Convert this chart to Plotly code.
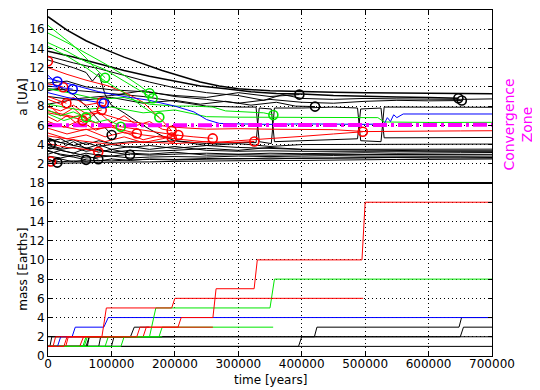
import plotly.graph_objects as go
from plotly.subplots import make_subplots

BLACK, RED, GREEN, BLUE, MAG = "#000000", "#FF0000", "#00E600", "#0000FF", "#FF00FF"

# ---------------- top panel: semi-major axis a [UA] vs time ----------------
TB = [0, 20000, 40000, 60000, 80000, 100000, 130000, 160000, 200000, 250000,
      300000, 350000, 400000, 450000, 500000, 550000, 600000, 650000, 700000]
B1 = [2.05, 2.05, 2.1, 2.1, 2.15, 2.15, 2.2, 2.2, 2.25, 2.3, 2.3, 2.35, 2.35, 2.4, 2.4, 2.45, 2.45, 2.5, 2.5]
B2 = [2.4, 2.2, 2.3, 2.25, 2.35, 2.3, 2.4, 2.45, 2.4, 2.5, 2.55, 2.5, 2.6, 2.6, 2.65, 2.65, 2.7, 2.7, 2.65]
B3 = [2.8, 2.6, 2.9, 2.6, 2.7, 2.8, 2.6, 2.7, 2.75, 2.7, 2.8, 2.75, 2.8, 2.85, 2.8, 2.8, 2.85, 2.8, 2.8]
B4 = [3.3, 3.0, 2.8, 3.1, 2.9, 2.8, 3.0, 2.9, 3.0, 3.1, 3.0, 3.1, 3.05, 3.1, 3.15, 3.1, 3.15, 3.15, 3.17]
B5 = [3.9, 3.5, 3.7, 3.3, 3.5, 3.2, 3.4, 3.3, 3.4, 3.6, 3.4, 3.7, 3.5, 3.5, 3.55, 3.5, 3.5, 3.52, 3.52]
B6 = [4.3, 4.6, 3.9, 4.2, 3.8, 4.0, 3.7, 3.9, 3.6, 3.9, 4.1, 3.8, 4.0, 4.0, 4.05, 4.0, 4.05, 4.05, 4.05]
B8 = [2.2, 2.5, 2.2, 2.4, 2.3, 2.5, 2.35, 2.5, 2.45, 2.55, 2.5, 2.6, 2.55, 2.6, 2.6, 2.65, 2.6, 2.62, 2.6]
B9 = [3.0, 3.4, 3.1, 3.6, 3.2, 3.5, 3.1, 3.0, 3.2, 2.9, 2.95, 2.9, 2.95, 2.95, 2.95, 3.0, 3.0, 3.0, 2.98]
B10 = [4.0, 3.6, 4.3, 3.6, 4.0, 3.5, 3.8, 3.5, 3.8, 3.4, 3.3, 3.35, 3.3, 3.3, 3.3, 3.3, 3.3, 3.3, 3.3]

B7_t = [0, 20000, 40000, 60000, 80000, 100000, 130000, 160000, 200000, 250000, 300000, 328000, 333000,
        352000, 357000, 400000, 450000, 488000, 493000, 525000, 530000, 600000, 650000, 700000]
B7_a = [4.7, 4.2, 4.5, 4.0, 4.4, 4.1, 4.3, 4.2, 4.4, 4.1, 4.2, 4.2, 7.8, 7.7, 4.3, 4.4, 4.5, 4.6,
        7.7, 7.8, 4.7, 4.7, 4.75, 4.74]

K1_t = [0, 30000, 60000, 90000, 120000, 150000, 180000, 210000, 240000, 270000, 300000, 350000,
        400000, 450000, 500000, 550000, 600000, 650000, 700000]
K1_a = [17.3, 15.9, 14.8, 13.9, 13.1, 12.4, 11.7, 11.1, 10.5, 10.1, 9.8, 9.6, 9.5, 9.45, 9.4, 9.35, 9.3, 9.3, 9.28]
K2_t = [0, 40000, 80000, 120000, 160000, 200000, 240000, 280000, 320000, 360000, 400000, 450000,
        500000, 550000, 600000, 647000]
K2_a = [13.7, 13.1, 12.4, 11.7, 11.1, 10.6, 10.1, 9.8, 9.5, 9.3, 9.25, 9.1, 9.0, 8.95, 8.9, 8.82]
K3_t = [0, 40000, 80000, 120000, 160000, 200000, 250000, 300000, 340000, 370000, 400000, 450000,
        500000, 550000, 600000, 650000, 700000]
K3_a = [13.2, 12.5, 11.9, 11.2, 10.5, 9.9, 9.4, 9.1, 8.6, 9.2, 8.8, 8.7, 8.8, 8.75, 8.7, 8.7, 8.75]
K4_t = [0, 30000, 60000, 100000, 150000, 200000, 250000, 300000, 350000, 396300]
K4_a = [10.4, 10.6, 10.0, 9.7, 9.5, 9.1, 8.9, 9.4, 9.0, 9.2]
K5_t = [0, 50000, 100000, 150000, 200000, 240000, 280000, 320000, 360000, 390000, 421000]
K5_a = [9.0, 8.6, 8.9, 8.3, 8.6, 8.2, 8.5, 8.1, 8.4, 8.0, 7.95]
K6_t = [0, 50000, 100000, 150000, 200000, 250000, 300000, 350000, 400000, 450000, 500000, 550000, 600000, 652400]
K6_a = [8.2, 8.8, 9.1, 9.6, 9.0, 8.7, 8.3, 8.7, 8.4, 8.3, 8.5, 8.6, 8.55, 8.58]
K7_t = [0, 50000, 100000, 150000, 200000, 250000, 300000, 328000, 333000, 352000, 357000, 400000,
        450000, 488000, 493000, 525000, 530000, 600000, 700000]
K7_a = [9.8, 9.6, 9.3, 9.0, 8.5, 8.0, 7.9, 7.9, 4.3, 4.1, 7.8, 7.8, 7.9, 7.8, 4.4, 4.3, 7.9, 7.9, 7.88]
K10_t = [0, 20000, 40000, 60000, 70000, 80000, 90000, 100000, 120000, 140000, 160000, 180000,
         200000, 250000, 300000, 400000, 500000, 600000, 700000]
K10_a = [12.8, 12.4, 12.0, 11.5, 10.6, 11.4, 9.2, 8.1, 7.3, 6.4, 5.6, 4.9, 4.4, 3.9, 3.7, 3.5, 3.4, 3.35, 3.35]
K11_t = [0, 20000, 40000, 60000, 80000, 100400]
K11_a = [9.6, 9.9, 9.2, 8.0, 6.5, 4.99]
S1_t, S1_a = [0, 7000, 14700], [2.5, 2.3, 2.12]
S2_t, S2_a = [0, 20000, 40000, 60000], [3.4, 2.9, 2.7, 2.41]
S3_t, S3_a = [0, 30000, 55000, 79300], [3.7, 3.3, 2.9, 2.48]
S4_t, S4_a = [0, 40000, 80000, 110000, 129300], [4.5, 3.9, 3.4, 3.1, 2.93]
S7_t, S7_a = [0, 4300], [4.4, 4.05]

R2_t = [0, 30000, 60000, 95000, 125000, 150000, 180000, 195000]
R2_a = [12.0, 11.3, 10.7, 10.1, 9.3, 8.4, 6.5, 5.44]
R3_t, R3_a = [0, 12000, 24000], [10.3, 10.2, 9.97]
R4_t, R4_a = [0, 15000, 29000], [9.0, 8.6, 8.3]
R5_t, R5_a = [0, 20000, 40000, 60000, 84700], [8.7, 8.2, 8.9, 8.1, 8.4]
R6_t, R6_a = [0, 20000, 40000, 60000, 84700], [7.9, 7.5, 8.1, 7.2, 7.6]
R7_t, R7_a = [0, 15000, 30000, 45000, 54700], [6.9, 6.4, 7.0, 6.2, 6.49]
R8_t = [0, 25000, 50000, 75000, 100000, 120000, 140000]
R8_a = [6.4, 5.8, 6.5, 5.5, 6.0, 5.2, 5.16]
R9_t = [0, 30000, 60000, 90000, 120000, 150000, 175000, 195000]
R9_a = [5.7, 5.1, 5.6, 4.8, 5.3, 4.5, 4.9, 4.74]
R10_t = [0, 30000, 60000, 90000, 120000, 150000, 180000, 205500]
R10_a = [5.2, 4.6, 5.0, 4.3, 4.8, 4.2, 4.6, 4.99]
R11_t = [0, 40000, 80000, 120000, 160000, 200000, 230000, 259700]
R11_a = [7.3, 6.8, 6.2, 5.8, 5.4, 5.0, 4.8, 4.64]
R12_t = [0, 50000, 100000, 150000, 200000, 250000, 290000, 325300]
R12_a = [4.9, 4.4, 4.0, 4.3, 4.1, 4.3, 4.2, 4.32]
R13_t = [0, 50000, 100000, 150000, 200000, 260000, 300000, 350000, 400000, 450000, 496300]
R13_a = [6.2, 5.5, 5.8, 5.0, 4.6, 4.2, 4.4, 4.6, 4.85, 5.1, 5.33]
R14_t = [0, 40000, 80000, 120000, 160000, 200000, 250000, 300000, 350000, 400000, 450000,
         500000, 550000, 600000, 650000, 700000]
R14_a = [7.5, 6.9, 7.3, 6.5, 6.1, 5.8, 5.6, 5.65, 5.6, 5.6, 5.55, 5.35, 5.4, 5.4, 5.42, 5.44]
R15_t = [0, 20000, 40000, 60000, 80000, 100000, 120000, 140000, 160000, 180000, 195000]
R15_a = [8.2, 7.0, 7.8, 6.6, 7.4, 6.2, 7.0, 6.0, 6.4, 5.6, 5.44]
S5_t, S5_a = [0, 4700], [2.6, 2.23]
S6_t, S6_a = [0, 30000, 60000, 79300], [4.1, 3.7, 3.5, 3.24]

G1_t, G1_a = [0, 20000, 40000, 60000, 75000, 90000], [16.4, 15.3, 14.3, 13.0, 11.9, 10.95]
G2_t = [0, 30000, 60000, 90000, 120000, 145000, 160000]
G2_a = [15.6, 14.6, 13.5, 12.4, 11.2, 10.1, 9.34]
G3_t = [0, 30000, 60000, 90000, 120000, 145000, 165000]
G3_a = [14.6, 13.7, 12.6, 11.8, 10.6, 9.6, 8.82]
G4_t = [0, 30000, 60000, 90000, 120000, 150000, 175500]
G4_a = [14.2, 13.2, 12.0, 10.6, 9.4, 7.9, 6.83]
G5_t, G5_a = [0, 20000, 40000, 60000], [7.6, 7.0, 7.4, 6.83]
G6_t, G6_a = [0, 25000, 50000, 75000, 95000, 114700], [7.2, 6.5, 7.0, 6.3, 6.6, 5.86]
G7_t = [0, 40000, 80000, 120000, 160000, 200000, 230000, 260000, 280000, 310000, 340000, 355300]
G7_a = [9.8, 9.3, 8.7, 8.9, 8.2, 8.0, 8.0, 7.9, 7.5, 7.4, 7.3, 7.08]
G8_t = [0, 50000, 100000, 150000, 200000, 250000, 300000, 350000, 400000, 450000, 500000,
        520000, 530000, 600000, 700000]
G8_a = [8.2, 7.6, 7.9, 7.3, 7.6, 6.9, 6.85, 6.85, 6.8, 6.8, 6.85, 6.8, 6.35, 6.3, 6.31]

U1_t, U1_a = [0, 7000, 14700], [11.2, 10.8, 10.56]
U2_t, U2_a = [0, 20000, 39000], [10.1, 9.9, 9.76]
U3_t, U3_a = [0, 30000, 60000, 88000], [9.4, 8.9, 8.6, 8.3]
U4_t = [0, 40000, 80000, 120000, 160000, 200000, 230000, 250000, 270000, 300000, 350000, 400000,
        450000, 500000, 530000, 535000, 540000, 545000, 550000, 560000, 600000, 700000]
U4_a = [10.9, 10.2, 9.5, 9.0, 8.6, 8.0, 7.4, 6.6, 6.2, 6.15, 6.1, 6.15, 6.1, 6.1, 6.15, 6.8,
        6.4, 7.1, 6.8, 7.18, 7.18, 7.18]

conv_t = [0, 700000]
conv_a = [6.0, 6.05]

# collision circles
red_c_t = [0, 24000, 29000, 84700, 84700, 54700, 140000, 195000, 195000, 205500, 259700, 325300, 496300, 79300, 4700]
red_c_a = [12.66, 9.97, 8.3, 8.4, 7.6, 6.49, 5.16, 5.44, 4.74, 4.99, 4.64, 4.32, 5.33, 3.24, 2.23]
blk_c_t = [4300, 100400, 129300, 60000, 79300, 14700, 396300, 421000, 647000, 652400]
blk_c_a = [4.05, 4.99, 2.93, 2.41, 2.48, 2.12, 9.2, 7.95, 8.82, 8.58]
grn_c_t = [90000, 160000, 165000, 175500, 60000, 114700, 355300]
grn_c_a = [10.95, 9.34, 8.82, 6.83, 6.83, 5.86, 7.08]
blu_c_t = [14700, 39000, 88000]
blu_c_a = [10.56, 9.76, 8.3]

# ---------------- bottom panel: mass [Earths] vs time ----------------
MA_t = [0, 8000, 12000, 140000, 145000, 205000, 210000, 260000, 265000, 325000, 330000, 495000, 500000, 700000]
MA_m = [1, 1, 2, 2, 3, 3, 4, 4, 7, 7, 10, 10, 16, 16]
MB_t = [0, 25000, 30000, 85000, 92000, 195000, 200000, 497000]
MB_m = [1, 1, 2, 2, 5, 5, 6, 6]
MC_t = [0, 55000, 60000, 160000, 170000, 350000, 357000, 700000]
MC_m = [1, 1, 2, 2, 5, 5, 8, 8]
MD_t = [0, 15000, 20000, 38000, 43000, 88000, 95000, 700000]
MD_m = [1, 1, 2, 2, 3, 3, 4, 4]
ME_t = [0, 90000, 95000, 175000, 180000, 355000]
ME_m = [1, 1, 2, 2, 3, 3]
MF_t = [0, 28000, 32000, 150000, 155000, 260000]
MF_m = [1, 1, 2, 2, 3, 3]
MG_t = [0, 60000, 65000, 420000, 424000, 648000, 652000, 700000]
MG_m = [1, 1, 2, 2, 3, 3, 4, 4]
MH_t = [0, 395000, 400000, 650000, 655000, 700000]
MH_m = [1, 1, 2, 2, 3, 3]
MI_t, MI_m = [0, 700000], [1, 1]
MJ_t, MJ_m = [0, 3000, 6000, 700000], [1, 1, 2, 2]
MS1_t, MS1_m = [0, 62000, 65000, 130000], [1, 1, 2, 2]
MS2_t, MS2_m = [0, 80000, 83000, 200000], [1, 1, 2, 2]
MS3_t, MS3_m = [0, 100000, 104000, 180000], [1, 1, 2, 2]
MS4_t, MS4_m = [0, 130000, 136000, 160000], [2, 2, 3, 3]
MG1_t, MG1_m = [0, 115000, 120000, 180000], [1, 1, 2, 2]
MG2_t, MG2_m = [0, 57000, 62000, 100000], [1, 1, 2, 2]
MR1_t, MR1_m = [0, 50000, 56000, 120000], [1, 1, 2, 2]

fig = make_subplots(rows=2, cols=1, shared_xaxes=True, vertical_spacing=0)


def line(row, t, y, color, width=1.0):
    fig.add_trace(go.Scatter(x=t, y=y, mode="lines", line=dict(color=color, width=width),
                             showlegend=False, hoverinfo="skip"), row=row, col=1)


def circles(t, y, color):
    fig.add_trace(go.Scatter(x=t, y=y, mode="markers",
                             marker=dict(symbol="circle-open", size=9, color=color, line=dict(width=1.6, color=color)),
                             showlegend=False, hoverinfo="skip"), row=1, col=1)


# top panel
for arr in (B1, B2, B3, B4, B5, B6, B8, B9, B10):
    line(1, TB, arr, BLACK)
line(1, B7_t, B7_a, BLACK)
line(1, K1_t, K1_a, BLACK, 1.5)
line(1, K2_t, K2_a, BLACK, 1.5)
for t, a in ((K3_t, K3_a), (K4_t, K4_a), (K5_t, K5_a), (K6_t, K6_a), (K7_t, K7_a),
             (K10_t, K10_a), (K11_t, K11_a), (S1_t, S1_a), (S2_t, S2_a), (S3_t, S3_a),
             (S4_t, S4_a), (S7_t, S7_a)):
    line(1, t, a, BLACK)
for t, a in ((R2_t, R2_a), (R3_t, R3_a), (R4_t, R4_a), (R5_t, R5_a), (R6_t, R6_a), (R7_t, R7_a),
             (R8_t, R8_a), (R9_t, R9_a), (R10_t, R10_a), (R11_t, R11_a), (R12_t, R12_a),
             (R13_t, R13_a), (R14_t, R14_a), (R15_t, R15_a), (S5_t, S5_a), (S6_t, S6_a)):
    line(1, t, a, RED)
for t, a in ((G1_t, G1_a), (G2_t, G2_a), (G3_t, G3_a), (G4_t, G4_a), (G5_t, G5_a),
             (G6_t, G6_a), (G7_t, G7_a), (G8_t, G8_a)):
    line(1, t, a, GREEN)
for t, a in ((U1_t, U1_a), (U2_t, U2_a), (U3_t, U3_a), (U4_t, U4_a)):
    line(1, t, a, BLUE)
fig.add_trace(go.Scatter(x=conv_t, y=conv_a, mode="lines",
                         line=dict(color=MAG, width=4, dash="14px,4px,3px,4px"),
                         showlegend=False, hoverinfo="skip"), row=1, col=1)
circles(red_c_t, red_c_a, RED)
circles(blk_c_t, blk_c_a, BLACK)
circles(grn_c_t, grn_c_a, GREEN)
circles(blu_c_t, blu_c_a, BLUE)

# bottom panel
for t, m in ((MI_t, MI_m), (MJ_t, MJ_m), (MS1_t, MS1_m), (MS2_t, MS2_m), (MS3_t, MS3_m),
             (MS4_t, MS4_m), (MG_t, MG_m), (MH_t, MH_m)):
    line(2, t, m, BLACK)
for t, m in ((MG1_t, MG1_m), (MG2_t, MG2_m), (ME_t, ME_m)):
    line(2, t, m, GREEN)
line(2, MR1_t, MR1_m, RED)
line(2, MF_t, MF_m, RED)
line(2, MD_t, MD_m, BLUE)
line(2, MC_t, MC_m, GREEN)
line(2, MB_t, MB_m, RED)
line(2, MA_t, MA_m, RED)

tickfont = dict(family="DejaVu Sans", size=12, color="black")
axis_common = dict(showline=True, linecolor="black", linewidth=1, mirror="allticks",
                   ticks="inside", ticklen=4, tickcolor="black", showgrid=True,
                   gridcolor="black", griddash="1px,3px", gridwidth=1, zeroline=False,
                   tickfont=tickfont, automargin=False)
xticks = [0, 100000, 200000, 300000, 400000, 500000, 600000, 700000]
fig.update_xaxes(range=[0, 700000], tickvals=xticks, tickformat="d", ticklabelstandoff=-3, **axis_common)
fig.update_xaxes(showticklabels=False, row=1, col=1)
fig.update_yaxes(range=[0, 18], tickvals=[2, 4, 6, 8, 10, 12, 14, 16, 18], row=1, col=1, **axis_common)
fig.update_yaxes(range=[0, 18], tickvals=[0, 2, 4, 6, 8, 10, 12, 14, 16, 18], row=2, col=1, **axis_common)

# the page body adds an 8px margin, so the figure is sized 532x382 and shifted accordingly
labfont = dict(family="DejaVu Sans", size=12, color="black")
fig.update_layout(
    width=532, height=382, margin=dict(l=40, r=48, t=2, b=34),
    paper_bgcolor="white", plot_bgcolor="white",
    annotations=[
        dict(text="a [UA]", x=-0.058, y=0.75, xref="paper", yref="paper", textangle=-90,
             showarrow=False, font=labfont, xanchor="center", yanchor="middle"),
        dict(text="mass [Earths]", x=-0.058, y=0.25, xref="paper", yref="paper", textangle=-90,
             showarrow=False, font=labfont, xanchor="center", yanchor="middle"),
        dict(text="time [years]", x=0.5, y=-0.068, xref="paper", yref="paper",
             showarrow=False, font=labfont, xanchor="center", yanchor="middle"),
        dict(text="Convergence<br>Zone", x=1.058, y=0.668, xref="paper", yref="paper", textangle=-90,
             showarrow=False, font=dict(family="DejaVu Sans", size=14, color=MAG),
             xanchor="center", yanchor="middle"),
    ],
)
fig.write_html("out.html")
